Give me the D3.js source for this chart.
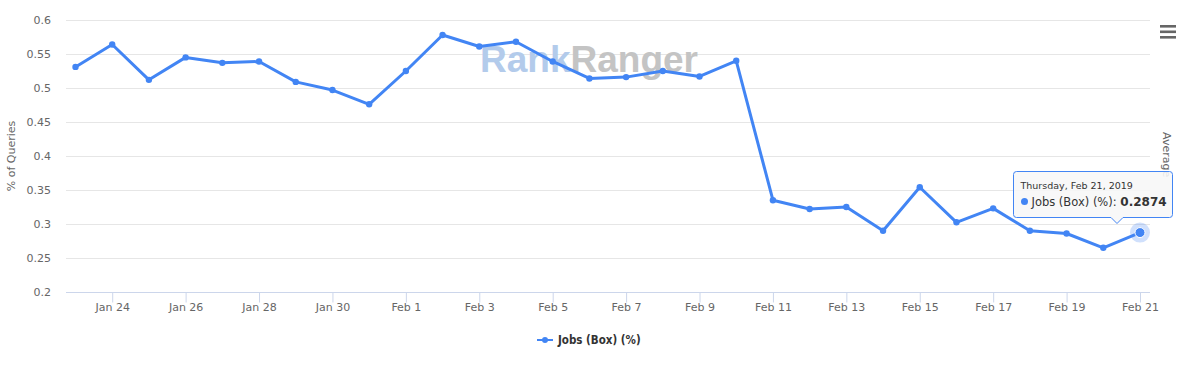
<!DOCTYPE html>
<html>
<head>
<meta charset="utf-8">
<script src="https://cdn.jsdelivr.net/npm/d3@7"></script>
<style>
  html, body { margin: 0; padding: 0; background: #fff; }
  svg { display: block; font-family: "DejaVu Sans", sans-serif; }
</style>
</head>
<body>
<svg id="chart" width="1191" height="366"></svg>
<script>
const dates = ["2019-01-23","2019-01-24","2019-01-25","2019-01-26","2019-01-27","2019-01-28","2019-01-29","2019-01-30","2019-01-31","2019-02-01","2019-02-02","2019-02-03","2019-02-04","2019-02-05","2019-02-06","2019-02-07","2019-02-08","2019-02-09","2019-02-10","2019-02-11","2019-02-12","2019-02-13","2019-02-14","2019-02-15","2019-02-16","2019-02-17","2019-02-18","2019-02-19","2019-02-20","2019-02-21"];
const values = [0.531,0.564,0.512,0.545,0.537,0.539,0.509,0.497,0.476,0.525,0.578,0.561,0.568,0.539,0.514,0.516,0.525,0.517,0.540,0.335,0.322,0.325,0.290,0.354,0.3025,0.323,0.290,0.286,0.265,0.2874];
const yTicks = [0.2,0.25,0.3,0.35,0.4,0.45,0.5,0.55,0.6];
const xTickDates = ["2019-01-24","2019-01-26","2019-01-28","2019-01-30","2019-02-01","2019-02-03","2019-02-05","2019-02-07","2019-02-09","2019-02-11","2019-02-13","2019-02-15","2019-02-17","2019-02-19","2019-02-21"];
const seriesName = "Jobs (Box) (%)";
const yTitle = "% of Queries";
const rightTitle = "Average";
const tooltipDate = "Thursday, Feb 21, 2019";
const tooltipValue = "0.2874";

const parse = d3.utcParse("%Y-%m-%d");
const fmt = d3.utcFormat("%b %-d");
const data = dates.map((d, i) => ({ date: parse(d), value: values[i] }));

const color = "#4285f4";
const svg = d3.select("#chart");
const plotL = 66, plotR = 1150, plotT = 20, plotB = 292;

const x = d3.scaleUtc().domain([parse(dates[0]), parse(dates[dates.length - 1])]).range([75.5, 1140]);
const y = d3.scaleLinear().domain([0.2, 0.6]).range([plotB, plotT]);

// gridlines
svg.append("g").selectAll("line").data(yTicks.filter(t => t > 0.2)).join("line")
  .attr("x1", plotL).attr("x2", plotR)
  .attr("y1", d => Math.round(y(d)) + 0.5).attr("y2", d => Math.round(y(d)) + 0.5)
  .attr("stroke", "#e6e6e6").attr("stroke-width", 1);

// y axis labels
const yAxis = d3.axisLeft(y).tickValues(yTicks).tickSize(0).tickPadding(0).tickFormat(d3.format("~g"));
const gy = svg.append("g").attr("transform", `translate(51,0)`).call(yAxis);
gy.select(".domain").remove();
gy.selectAll("text").attr("fill", "#666").attr("font-size", "11px").attr("font-family", "DejaVu Sans, sans-serif");

// x axis
const xAxis = d3.axisBottom(x).tickValues(xTickDates.map(parse)).tickSize(10).tickPadding(1).tickFormat(fmt).tickSizeOuter(0);
const gx = svg.append("g").attr("transform", `translate(0,${plotB + 0.5})`).call(xAxis);
gx.select(".domain").attr("d", `M${plotL},0H${plotR}`).attr("stroke", "#ccd6eb");
gx.selectAll(".tick line").attr("stroke", "#ccd6eb");
gx.selectAll("text").attr("fill", "#666").attr("font-size", "11px").attr("font-family", "DejaVu Sans, sans-serif");

// y title
svg.append("text").attr("transform", `translate(15,${156}) rotate(-90)`)
  .attr("text-anchor", "middle").attr("fill", "#666").attr("font-size", "11px").text(yTitle);

// right title
svg.append("text").attr("transform", `translate(1163,${132}) rotate(90)`)
  .attr("text-anchor", "start").attr("fill", "#666").attr("font-size", "11px").text(rightTitle);

// watermark
const wm = svg.append("text").attr("x", 480).attr("y", 72)
  .attr("font-family", "Liberation Sans, Arial, sans-serif").attr("font-weight", "bold").attr("font-size", "37px")
  .attr("textLength", 218).attr("lengthAdjust", "spacingAndGlyphs");
wm.append("tspan").attr("fill", "#b3cbeb").text("Rank");
wm.append("tspan").attr("fill", "#c4c4c4").text("Ranger");

// line
const line = d3.line().x(d => x(d.date)).y(d => y(d.value));
svg.append("path").datum(data).attr("d", line)
  .attr("fill", "none").attr("stroke", color).attr("stroke-width", 3).attr("stroke-linejoin", "round").attr("stroke-linecap", "round");
svg.append("g").selectAll("circle").data(data.slice(0, -1)).join("circle")
  .attr("cx", d => x(d.date)).attr("cy", d => y(d.value)).attr("r", 3.2).attr("fill", color);

// hovered point
const last = data[data.length - 1];
svg.append("circle").attr("cx", x(last.date)).attr("cy", y(last.value)).attr("r", 10).attr("fill", color).attr("opacity", 0.25);
svg.append("circle").attr("cx", x(last.date)).attr("cy", y(last.value)).attr("r", 5).attr("fill", color).attr("stroke", "#fff").attr("stroke-width", 1);

// tooltip
const tx = 1013.5, ty = 171.5, tw = 159, th = 46, px = 1117;
const tip = svg.append("g");
tip.append("path")
  .attr("d", `M${tx + 3},${ty} H${tx + tw - 3} Q${tx + tw},${ty} ${tx + tw},${ty + 3} V${ty + th - 3} Q${tx + tw},${ty + th} ${tx + tw - 3},${ty + th} H${px + 6} L${px},${ty + th + 6} L${px - 6},${ty + th} H${tx + 3} Q${tx},${ty + th} ${tx},${ty + th - 3} V${ty + 3} Q${tx},${ty} ${tx + 3},${ty} Z`)
  .attr("fill", "rgba(247,247,247,0.88)").attr("stroke", color).attr("stroke-width", 1);
tip.append("text").attr("x", tx + 7).attr("y", ty + 17).attr("font-size", "9.5px").attr("fill", "#333").text(tooltipDate);
tip.append("circle").attr("cx", tx + 11).attr("cy", ty + 30).attr("r", 3.5).attr("fill", color);
const t2 = tip.append("text").attr("x", tx + 18).attr("y", ty + 34).attr("font-size", "11.5px").attr("fill", "#333");
t2.append("tspan").text(seriesName + ": ");
t2.append("tspan").attr("font-weight", "bold").attr("font-size", "12px").text(tooltipValue);

// legend
const lg = svg.append("g").attr("transform", "translate(537,340)");
lg.append("line").attr("x1", 0).attr("x2", 16).attr("y1", 0).attr("y2", 0).attr("stroke", color).attr("stroke-width", 2);
lg.append("circle").attr("cx", 8).attr("cy", 0).attr("r", 3).attr("fill", color);
lg.append("text").attr("x", 21).attr("y", 4).attr("font-size", "11.5px").attr("font-weight", "bold")
  .attr("font-family", "DejaVu Sans Condensed, DejaVu Sans, sans-serif").attr("fill", "#333").text(seriesName);

// menu icon
svg.append("g").selectAll("rect").data([0, 1, 2]).join("rect")
  .attr("x", 1160).attr("y", d => 25 + d * 5.5).attr("width", 16).attr("height", 2.6).attr("fill", "#666");
</script>
</body>
</html>
